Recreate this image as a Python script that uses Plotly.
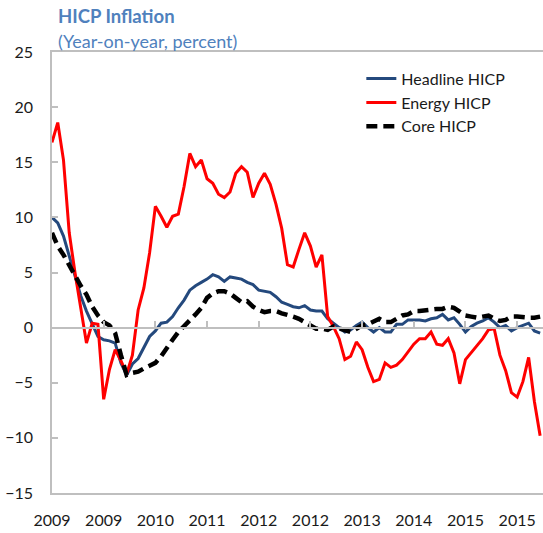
import plotly.graph_objects as go

# Monthly observations, Jan 2009 onwards (index = month number)
headline = [10.0, 9.5, 8.3, 6.5, 4.5, 2.9, 1.5, 0.4, -0.8, -1.1,
            -1.2, -1.4, -3.2, -4.3, -3.3, -2.8, -1.8, -0.8, -0.3, 0.4,
            0.5, 1.0, 1.8, 2.5, 3.4, 3.8, 4.1, 4.4, 4.8, 4.6,
            4.2, 4.6, 4.5, 4.4, 4.1, 3.9, 3.4, 3.3, 3.2, 2.8,
            2.3, 2.1, 1.9, 1.8, 2.0, 1.6, 1.5, 1.5, 0.8, 0.4,
            0.0, -0.4, -0.2, 0.2, 0.5, 0.0, -0.4, 0.0, -0.4, -0.4,
            0.3, 0.3, 0.7, 0.7, 0.7, 0.6, 0.8, 0.9, 1.2, 0.7,
            0.9, 0.3, -0.4, 0.1, 0.4, 0.6, 0.9, 0.5, 0.0, 0.2,
            -0.3, 0.0, 0.2, 0.4, -0.3, -0.5]

energy = [16.8, 18.6, 15.2, 8.6, 5.0, 2.0, -1.4, 0.4, 0.3, -6.5,
          -3.8, -2.0, -3.0, -4.2, -2.5, 1.6, 3.6, 6.8, 11.0, 10.1,
          9.1, 10.1, 10.3, 12.8, 15.8, 14.6, 15.2, 13.5, 13.1, 12.1,
          11.8, 12.3, 14.0, 14.6, 14.1, 11.8, 13.1, 14.0, 13.0, 11.2,
          9.0, 5.7, 5.5, 7.1, 8.6, 7.4, 5.5, 6.6, 1.0, 0.1,
          -1.0, -2.9, -2.6, -1.3, -2.0, -3.6, -4.9, -4.7, -3.2, -3.6,
          -3.4, -2.9, -2.2, -1.5, -1.0, -1.0, -0.4, -1.5, -1.6, -1.0,
          -2.3, -5.1, -2.9, -2.3, -1.6, -1.0, -0.2, -0.1, -2.5, -3.9,
          -5.9, -6.3, -4.9, -2.7, -6.7, -9.8]

core = [8.6, 7.4, 6.6, 5.6, 4.7, 3.8, 3.0, 1.9, 1.1, 0.5,
        0.2, -0.5, -2.5, -4.3, -4.1, -4.0, -3.7, -3.5, -3.2, -2.6,
        -1.8, -1.1, -0.4, 0.1, 0.7, 1.2, 1.8, 2.7, 3.1, 3.3,
        3.3, 3.1, 2.7, 2.3, 2.4, 1.9, 1.6, 1.4, 1.5, 1.5,
        1.3, 1.2, 1.0, 0.8, 0.5, 0.1, -0.1, -0.1, -0.2, 0.1,
        -0.1, -0.3, -0.4, -0.1, 0.2, 0.3, 0.6, 0.8, 0.5, 0.5,
        0.8, 1.1, 1.2, 1.5, 1.5, 1.6, 1.7, 1.7, 1.7, 1.9,
        1.8, 1.4, 1.1, 1.0, 0.9, 1.0, 1.1, 0.8, 0.6, 0.7,
        1.0, 1.0, 0.9, 0.9, 0.9, 1.0]

tick_labels = ["2009", "2009", "2010", "2011", "2012", "2012",
               "2013", "2014", "2015", "2015"]
y_ticks = [-15, -10, -5, 0, 5, 10, 15, 20, 25]

months = list(range(len(headline)))
tick_step = 9
tick_vals = [i * tick_step for i in range(len(tick_labels))]

FONT = "Lato, 'Noto Sans', sans-serif"
GRAY = "#bfbfbf"

fig = go.Figure()
fig.add_trace(go.Scatter(x=months, y=headline, mode="lines", name="Headline HICP",
                         line=dict(color="#24497d", width=3)))
fig.add_trace(go.Scatter(x=months, y=energy, mode="lines", name="Energy HICP",
                         line=dict(color="#ff0000", width=3)))
fig.add_trace(go.Scatter(x=months, y=core, mode="lines", name="Core HICP",
                         line=dict(color="#000000", width=4.5, dash="11px,6px")))
# helper (empty) trace so the zero-line tick axis is drawn
fig.add_trace(go.Scatter(x=[None], y=[None], xaxis="x2", showlegend=False,
                         hoverinfo="skip", mode="lines"))

fig.update_layout(
    width=543, height=533,
    margin=dict(l=52, r=0, t=52, b=40),
    paper_bgcolor="white", plot_bgcolor="white",
    font=dict(family=FONT, size=16, color="#1a1a1a"),
    showlegend=True,
    legend=dict(x=0.63, y=0.978, xanchor="left", yanchor="top",
                bgcolor="rgba(0,0,0,0)", font=dict(size=16, family=FONT),
                tracegroupgap=0),
    xaxis=dict(range=[0, 85.5], showgrid=False, zeroline=False,
               showline=True, mirror=True, linecolor=GRAY, linewidth=1.5,
               tickmode="array", tickvals=tick_vals, ticktext=tick_labels,
               ticks="", ticklabelstandoff=12, tickfont=dict(size=16)),
    xaxis2=dict(range=[0, 85.5], overlaying="x", anchor="free", position=0.375,
                showgrid=False, zeroline=False, showline=True, linecolor=GRAY,
                linewidth=1.5, tickmode="array", tickvals=tick_vals,
                ticks="inside", ticklen=6, tickcolor=GRAY, tickwidth=1.5,
                showticklabels=False),
    yaxis=dict(range=[-15, 25], showgrid=False, zeroline=False,
               showline=True, linecolor=GRAY, linewidth=1.5,
               tickmode="array", tickvals=y_ticks,
               ticks="inside", ticklen=6, tickcolor=GRAY, tickwidth=1.5,
               ticklabelstandoff=14, tickfont=dict(size=16)),
    annotations=[
        dict(text="<b>HICP Inflation</b>", xref="paper", yref="paper",
             x=0.008, y=1.081, xanchor="left", yanchor="middle", showarrow=False,
             font=dict(size=18.5, color="#4f81bd", family=FONT)),
        dict(text="(Year-on-year, percent)", xref="paper", yref="paper",
             x=0.008, y=1.024, xanchor="left", yanchor="middle", showarrow=False,
             font=dict(size=18, color="#4f81bd", family=FONT)),
    ],
)

fig.write_html("out.html",
               config={"displayModeBar": False},
               post_script="document.body.style.margin='0';"
                           "document.body.style.overflow='hidden';")
